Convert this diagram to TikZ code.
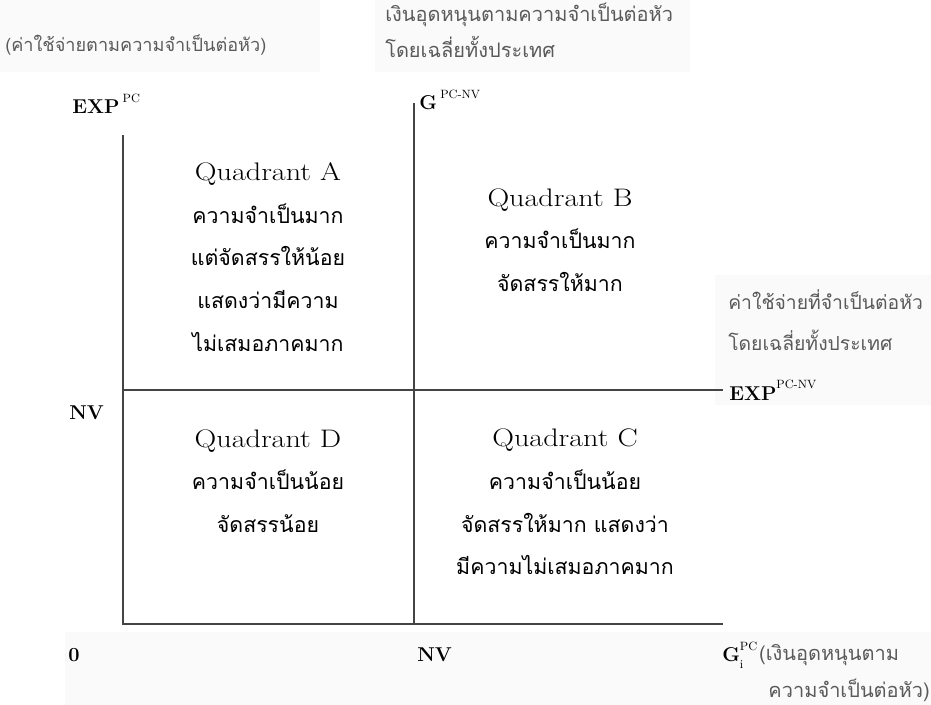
\documentclass[tikz,border=0pt]{standalone}
\usepackage{fontspec}
\newfontfamily\thai[Script=Thai]{Loma}
\definecolor{axisgray}{HTML}{444444}
\definecolor{labgray}{HTML}{5A5A5A}
\definecolor{scan}{HTML}{FAFAFA}
\tikzset{
  axisline/.style={draw=axisgray, line width=1.9pt},
  quad/.style={align=center, font=\thai\fontsize{16}{32}\selectfont, text=black, inner sep=0pt},
  thailab/.style={font=\thai\fontsize{15}{24}\selectfont, text=labgray, inner sep=0pt},
  boldlab/.style={font=\bfseries\fontsize{15}{18}\selectfont, inner sep=0pt},
}
\newcommand{\supx}[1]{\raisebox{1.3ex}{\normalfont\fontsize{9}{10}\selectfont #1}}
\newcommand{\subx}[1]{\raisebox{-0.7ex}{\normalfont\fontsize{9}{10}\selectfont #1}}
\newcommand{\qtitle}[1]{\scalebox{1.19}[1]{\rmfamily\fontsize{19}{22}\selectfont #1}}
\begin{document}
\begin{tikzpicture}[x=0.75pt,y=-0.75pt]
\useasboundingbox (0,0) rectangle (931,705);
% faint scan backgrounds
\fill[scan] (0,0) rectangle (320,72);
\fill[scan] (375,0) rectangle (690,72);
\fill[scan] (715,275) rectangle (931,405);
\fill[scan] (65,632) rectangle (931,705);
% axis coordinates
\coordinate (O) at (123,624);
\coordinate (Ytop) at (123,135);
\coordinate (Xend) at (723,624);
\coordinate (Mbot) at (414,624);
\coordinate (Mtop) at (414,103);
\coordinate (Hl) at (123,390);
\coordinate (Hr) at (723,390);
\draw[axisline] (Ytop) -- (O) -- (Xend);
\draw[axisline] (Mtop) -- (Mbot);
\draw[axisline] (Hl) -- (Hr);
% top labels
\node[thailab, font=\thai\fontsize{13.6}{24}\selectfont, anchor=west] (tl) at (5,45) {(ค่าใช้จ่ายตามความจำเป็นต่อหัว)};
\node[thailab, anchor=west] (tc1) at (385,15) {เงินอุดหนุนตามความจำเป็นต่อหัว};
\node[thailab, anchor=west] (tc2) at (385,47) {โดยเฉลี่ยทั้งประเทศ};
\node[thailab, font=\thai\fontsize{14.5}{24}\selectfont, anchor=west] (r1) at (728,300) {ค่าใช้จ่ายที่จำเป็นต่อหัว};
\node[thailab, font=\thai\fontsize{14.5}{24}\selectfont, anchor=west] (r2) at (728,340) {โดยเฉลี่ยทั้งประเทศ};
% math-like labels
\node[boldlab, anchor=west] (exppc) at (72,104) {EXP\,\supx{PC}};
\node[boldlab, anchor=west] (gpcnv) at (419,100) {G\,\supx{PC-NV}};
\node[boldlab, anchor=west] (exppcnv) at (729,390) {EXP\supx{PC-NV}};
\node[boldlab, anchor=west] (nvl) at (69,413) {NV};
\node[boldlab, anchor=west] (zero) at (68,655) {0};
\node[boldlab, anchor=west] (nvb) at (417,655) {NV};
\node[boldlab, anchor=west] (gi) at (722,655) {G\rlap{\subx{i}}\supx{PC}};
\node[thailab, anchor=west] (gi1) at ([xshift=1pt]gi.east) {(เงินอุดหนุนตาม};
\node[thailab, anchor=east] (gi2) at (930,690) {ความจำเป็นต่อหัว)};
% quadrants
\node[quad] (qa) at (268,257) {\qtitle{Quadrant A}\\ความจำเป็นมาก\\แต่จัดสรรให้น้อย\\แสดงว่ามีความ\\ไม่เสมอภาคมาก};
\node[quad] (qb) at (560,240) {\qtitle{Quadrant B}\\ความจำเป็นมาก\\จัดสรรให้มาก};
\node[quad] (qd) at (268,481) {\qtitle{Quadrant D}\\ความจำเป็นน้อย\\จัดสรรน้อย};
\node[quad] (qc) at (565,502) {\qtitle{Quadrant C}\\ความจำเป็นน้อย\\จัดสรรให้มาก แสดงว่า\\มีความไม่เสมอภาคมาก};
\end{tikzpicture}
\end{document}
